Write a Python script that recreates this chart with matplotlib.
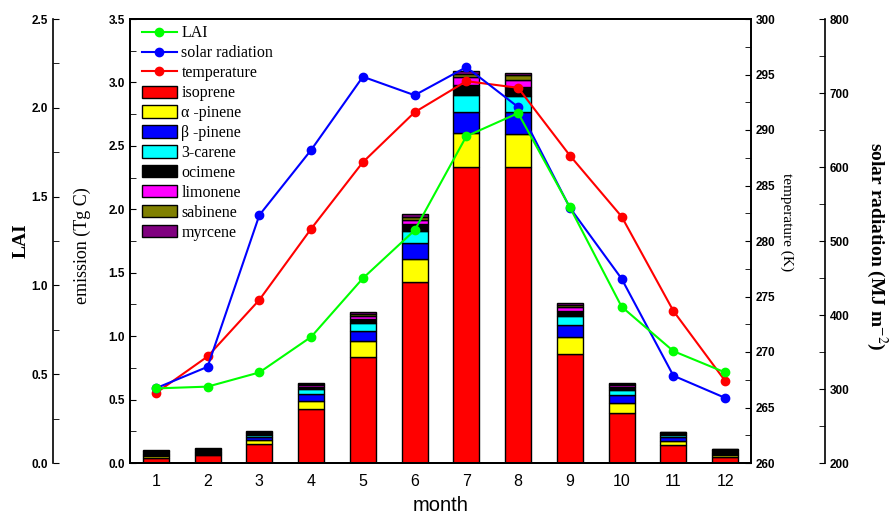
import numpy as np
import matplotlib
matplotlib.use('Agg')
import matplotlib.pyplot as plt
from matplotlib.lines import Line2D
from matplotlib.patches import Patch
from matplotlib.ticker import MultipleLocator

plt.rcParams['mathtext.fontset'] = 'stix'

# monthly data
months = np.arange(1, 13)
isoprene = [0.037, 0.061, 0.147, 0.426, 0.838, 1.424, 2.335, 2.335, 0.857, 0.397, 0.139, 0.045]
a_pinene = [0.018, 0.012, 0.034, 0.065, 0.121, 0.181, 0.263, 0.258, 0.134, 0.079, 0.037, 0.018]
b_pinene = [0.008, 0.008, 0.021, 0.050, 0.079, 0.126, 0.166, 0.171, 0.095, 0.058, 0.026, 0.008]
carene = [0.006, 0.006, 0.016, 0.039, 0.063, 0.095, 0.138, 0.128, 0.076, 0.042, 0.016, 0.006]
ocimene = [0.022, 0.022, 0.020, 0.021, 0.036, 0.057, 0.077, 0.073, 0.040, 0.026, 0.015, 0.024]
limonene = [0.003, 0.003, 0.005, 0.013, 0.021, 0.032, 0.060, 0.058, 0.024, 0.016, 0.005, 0.004]
sabinene = [0.003, 0.002, 0.005, 0.008, 0.016, 0.026, 0.030, 0.034, 0.016, 0.008, 0.005, 0.004]
myrcene = [0.002, 0.002, 0.005, 0.010, 0.016, 0.021, 0.020, 0.018, 0.016, 0.008, 0.004, 0.004]

lai = [0.42, 0.43, 0.51, 0.71, 1.04, 1.31, 1.84, 1.97, 1.44, 0.88, 0.63, 0.51]
temperature = [266.3, 269.6, 274.7, 281.1, 287.1, 291.6, 294.4, 293.8, 287.7, 282.2, 273.7, 267.4]
solar = [301, 330, 535, 623, 722, 697, 735, 681, 545, 449, 318, 288]

species = ['isoprene', 'α -pinene', 'β -pinene', '3-carene',
           'ocimene', 'limonene', 'sabinene', 'myrcene']
colors = ['#ff0000', '#ffff00', '#0000ff', '#00ffff',
          '#000000', '#ff00ff', '#808000', '#800080']
series = [isoprene, a_pinene, b_pinene, carene, ocimene, limonene, sabinene, myrcene]

fig = plt.figure(figsize=(8.9, 5.16), dpi=100)
ax = fig.add_axes([130/890, 1-463/516, 621/890, 444/516])

tick_font = dict(family='Liberation Sans', weight='bold', size=8.5)

# stacked bars
bottom = np.zeros(12)
for vals, c in zip(series, colors):
    ax.bar(months, vals, width=0.5, bottom=bottom, color=c, edgecolor='black', linewidth=1)
    bottom += np.array(vals)

ax.set_xlim(0.5, 12.5)
ax.set_ylim(0, 3.5)
ax.yaxis.set_major_locator(MultipleLocator(0.5))
ax.yaxis.set_minor_locator(MultipleLocator(0.25))
ax.tick_params(axis='y', which='both', direction='in', length=4)
ax.tick_params(axis='x', length=0, labelsize=11.5, pad=8)
ax.set_xticks(months)
ax.set_xticklabels([str(m) for m in months], family='Liberation Sans')
for t in ax.get_yticklabels():
    t.set(**tick_font)
ax.set_xlabel('month', family='Liberation Sans', fontsize=14.5, labelpad=5)
ax.set_ylabel('emission (Tg C)', family='Liberation Serif', fontsize=13)
ax.yaxis.set_label_coords(-0.063, 0.49)
for s in ax.spines.values():
    s.set_linewidth(1.2)

# temperature axis
ax_t = ax.twinx()
ax_t.set_ylim(260, 300)
ax_t.yaxis.set_major_locator(MultipleLocator(5))
ax_t.yaxis.set_minor_locator(MultipleLocator(2.5))
ax_t.tick_params(axis='y', which='both', direction='in', length=4)
ax_t.set_ylabel('temperature (K)', family='Liberation Serif', fontsize=11, rotation=270)
ax_t.yaxis.set_label_coords(1.069, 0.542)

# solar radiation axis
ax_s = ax.twinx()
ax_s.set_ylim(200, 800)
ax_s.spines['right'].set_position(('axes', 1.119))
ax_s.yaxis.set_major_locator(MultipleLocator(100))
ax_s.yaxis.set_minor_locator(MultipleLocator(50))
ax_s.tick_params(axis='y', which='both', direction='in', length=4)
ax_s.set_ylabel(r'solar radiation (MJ m$^{-2}$)', family='Liberation Serif', fontsize=14,
                weight='bold', rotation=270)
ax_s.yaxis.set_label_coords(1.222, 0.488)

# LAI axis
ax_l = ax.twinx()
ax_l.set_ylim(0, 2.5)
ax_l.yaxis.set_ticks_position('left')
ax_l.yaxis.set_label_position('left')
ax_l.spines['left'].set_visible(True)
ax_l.spines['left'].set_position(('axes', -0.124))
ax_l.spines['right'].set_visible(False)
ax_l.yaxis.set_major_locator(MultipleLocator(0.5))
ax_l.yaxis.set_minor_locator(MultipleLocator(0.25))
ax_l.tick_params(axis='y', which='both', direction='in', length=4)
ax_l.set_ylabel('LAI', family='Liberation Serif', fontsize=14, weight='bold')
ax_l.yaxis.set_label_coords(-0.162, 0.5)

for a in (ax_t, ax_s, ax_l):
    for t in a.get_yticklabels():
        t.set(**tick_font)
    for s in a.spines.values():
        s.set_linewidth(1.2)

ax_t.plot(months, temperature, color='#ff0000', marker='o', markersize=6, linewidth=1.5)
ax_s.plot(months, solar, color='#0000ff', marker='o', markersize=6, linewidth=1.5)
ax_l.plot(months, lai, color='#00ff00', marker='o', markersize=6, linewidth=1.5)

handles = [Line2D([], [], color='#00ff00', marker='o', markersize=6, linewidth=1.5),
           Line2D([], [], color='#0000ff', marker='o', markersize=6, linewidth=1.5),
           Line2D([], [], color='#ff0000', marker='o', markersize=6, linewidth=1.5)]
handles += [Patch(facecolor=c, edgecolor='black', linewidth=1) for c in colors]
labels = ['LAI', 'solar radiation', 'temperature'] + species
ax_l.legend(handles, labels, loc='upper left', bbox_to_anchor=(0.016, 0.989), frameon=False,
            prop=dict(family='Liberation Serif', size=11.5), handlelength=2.2,
            handleheight=0.8, labelspacing=0.245, handletextpad=0.3, borderaxespad=0,
            borderpad=0.1)

plt.savefig('out.png', dpi=100)
